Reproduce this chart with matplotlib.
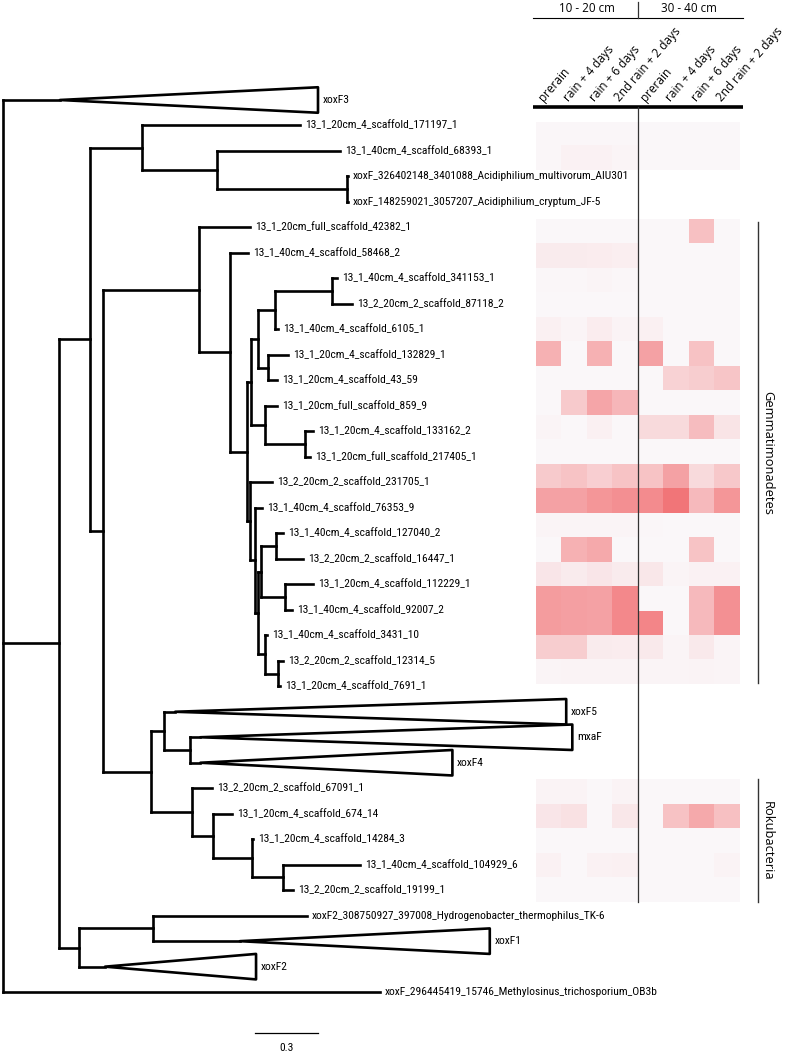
import numpy as np
import matplotlib
matplotlib.use('Agg')
import matplotlib.pyplot as plt
from matplotlib.collections import LineCollection
from matplotlib.patches import Polygon
from matplotlib.colors import LinearSegmentedColormap
from matplotlib import font_manager
from matplotlib.font_manager import FontProperties
from matplotlib.textpath import TextPath

# ---------------------------------------------------------------- data
# tree: internal node -> list of (child, branch length in substitutions/site)
# collapsed clades (triangles) are tips named xoxF1..5 / mxaF
tree_children = {
    "root": [("xoxF3", 0.271), ("n59", 0.267),
             ("xoxF_296445419_15746_Methylosinus_trichosporium_OB3b", 1.795)],
    "n59": [("n90", 0.148), ("n79", 0.095)],
    "n90": [("n142", 0.248), ("n103", 0.062)],
    "n142": [("13_1_20cm_4_scaffold_171197_1", 0.752), ("n217", 0.357)],
    "n217": [("13_1_40cm_4_scaffold_68393_1", 0.586), ("n347", 0.619)],
    "n347": [("xoxF_326402148_3401088_Acidiphilium_multivorum_AIU301", 0.003),
             ("xoxF_148259021_3057207_Acidiphilium_cryptum_JF-5", 0.003)],
    "n103": [("n199", 0.457), ("n151", 0.229)],
    "n199": [("13_1_20cm_full_scaffold_42382_1", 0.243), ("n230", 0.148)],
    "n230": [("13_1_40cm_4_scaffold_58468_2", 0.086), ("n247", 0.081)],
    "n247": [("n251", 0.019), ("n250", 0.014)],
    "n251": [("n258", 0.033), ("n265", 0.067)],
    "n258": [("n275", 0.081), ("n268", 0.048)],
    "n275": [("n332", 0.271), ("13_1_40cm_4_scaffold_6105_1", 0.014)],
    "n332": [("13_1_40cm_4_scaffold_341153_1", 0.024), ("13_2_20cm_2_scaffold_87118_2", 0.095)],
    "n268": [("13_1_20cm_4_scaffold_132829_1", 0.095), ("13_1_20cm_4_scaffold_43_59", 0.043)],
    "n265": [("13_1_20cm_full_scaffold_859_9", 0.057), ("n305", 0.190)],
    "n305": [("13_1_20cm_4_scaffold_133162_2", 0.038), ("13_1_20cm_full_scaffold_217405_1", 0.024)],
    "n250": [("13_2_20cm_2_scaffold_231705_1", 0.105), ("n255", 0.024)],
    "n255": [("13_1_40cm_4_scaffold_76353_9", 0.033), ("n258b", 0.014)],
    "n258b": [("n261", 0.014), ("n265b", 0.033)],
    "n261": [("n276", 0.071), ("n285", 0.114)],
    "n276": [("13_1_40cm_4_scaffold_127040_2", 0.033), ("13_2_20cm_2_scaffold_16447_1", 0.129)],
    "n285": [("13_1_20cm_4_scaffold_112229_1", 0.133), ("13_1_40cm_4_scaffold_92007_2", 0.033)],
    "n265b": [("13_1_40cm_4_scaffold_3431_10", 0.010), ("n278", 0.062)],
    "n278": [("13_2_20cm_2_scaffold_12314_5", 0.024), ("13_1_20cm_4_scaffold_7691_1", 0.010)],
    "n151": [("n164", 0.062), ("n192", 0.195)],
    "n164": [("xoxF5", 0.052), ("n190", 0.124)],
    "n190": [("mxaF", 0.048), ("xoxF4", 0.048)],
    "n192": [("13_2_20cm_2_scaffold_67091_1", 0.095), ("n213", 0.100)],
    "n213": [("13_1_20cm_4_scaffold_674_14", 0.090), ("n252", 0.186)],
    "n252": [("13_1_20cm_4_scaffold_14284_3", 0.005), ("n283", 0.148)],
    "n283": [("13_1_40cm_4_scaffold_104929_6", 0.367), ("13_2_20cm_2_scaffold_19199_1", 0.048)],
    "n79": [("n153", 0.352), ("xoxF2", 0.124)],
    "n153": [("xoxF2_308750927_397008_Hydrogenobacter_thermophilus_TK-6", 0.733), ("xoxF1", 0.414)],
}

# collapsed clades: length of the triangle (substitutions / site)
collapsed_names = ["xoxF3", "xoxF5", "mxaF", "xoxF4", "xoxF1", "xoxF2"]
collapsed_depth = [1.229, 1.862, 1.771, 1.200, 1.190, 0.719]

scale_bar_value = 0.3

# heat map
sample_columns = ["prerain", "rain + 4 days", "rain + 6 days", "2nd rain + 2 days",
                  "prerain", "rain + 4 days", "rain + 6 days", "2nd rain + 2 days"]
depth_groups = ["10 - 20 cm", "30 - 40 cm"]

NA = np.nan
heat_upper = [
    [0.03, 0.03, 0.03, 0.03, 0.02, 0.02, 0.02, 0.02],
    [0.03, 0.06, 0.06, 0.04, 0.02, 0.02, 0.02, 0.02],
    [NA, NA, NA, NA, NA, NA, NA, NA],
    [NA, NA, NA, NA, NA, NA, NA, NA],
    [0.02, 0.02, 0.02, 0.02, 0.02, 0.02, 0.36, 0.02],
    [0.10, 0.10, 0.09, 0.08, 0.02, 0.02, 0.02, 0.02],
    [0.03, 0.03, 0.04, 0.03, 0.02, 0.02, 0.02, 0.02],
    [0.02, 0.02, 0.02, 0.02, 0.02, 0.02, 0.02, 0.02],
    [0.07, 0.04, 0.09, 0.05, 0.07, 0.02, 0.02, 0.02],
    [0.45, 0.02, 0.45, 0.02, 0.55, 0.02, 0.35, 0.02],
    [0.02, 0.02, 0.02, 0.02, 0.02, 0.25, 0.28, 0.33],
    [0.02, 0.30, 0.52, 0.42, 0.02, 0.02, 0.02, 0.02],
    [0.04, 0.02, 0.07, 0.02, 0.20, 0.20, 0.38, 0.14],
    [0.02, 0.02, 0.02, 0.02, 0.02, 0.02, 0.02, 0.02],
    [0.30, 0.34, 0.27, 0.34, 0.34, 0.55, 0.20, 0.31],
    [0.55, 0.55, 0.62, 0.66, 0.68, 0.82, 0.40, 0.62],
    [0.04, 0.04, 0.04, 0.04, 0.03, 0.02, 0.02, 0.02],
    [0.02, 0.45, 0.50, 0.02, 0.02, 0.02, 0.34, 0.02],
    [0.13, 0.10, 0.13, 0.10, 0.12, 0.04, 0.06, 0.06],
    [0.58, 0.56, 0.55, 0.70, 0.02, 0.02, 0.40, 0.65],
    [0.58, 0.56, 0.55, 0.70, 0.72, 0.02, 0.40, 0.65],
    [0.28, 0.28, 0.10, 0.09, 0.11, 0.04, 0.11, 0.04],
    [0.04, 0.05, 0.05, 0.05, 0.04, 0.04, 0.05, 0.04],
]
heat_rokubacteria = [
    [0.05, 0.05, 0.02, 0.05, 0.02, 0.02, 0.02, 0.02],
    [0.13, 0.16, 0.02, 0.12, 0.02, 0.35, 0.50, 0.36],
    [0.02, 0.02, 0.02, 0.02, 0.02, 0.02, 0.02, 0.02],
    [0.06, 0.02, 0.06, 0.07, 0.02, 0.02, 0.02, 0.05],
    [0.02, 0.02, 0.02, 0.02, 0.02, 0.02, 0.02, 0.02],
]
clade_labels = ["Gemmatimonadetes", "Rokubacteria"]

# ---------------------------------------------------------------- layout constants
W, H = 795, 1054
ROW0_PX, ROW_PX = 100.0, 25.49      # first tip row and tip spacing (pixels)
ROOT_PX, UNIT_PX = 3.0, 210.0       # root position and pixels per substitution/site
HM_LEFT, HM_W = 535.7, 204.0
HM_UP_TOP, HM_UP_BOT = 121.7, 684.5
HM_RK_TOP, HM_RK_BOT = 779.0, 902.0
TREE_LW = 1.9

# ---------------------------------------------------------------- fonts: a narrow sans for tip labels
SAMPLE = "13_1_20cm_4_scaffold_171197_1"
TARGET_W_PX, TARGET_H_PX = 150.0, 9.0
ALLOWED = {"Liberation Sans Narrow", "Arial Narrow", "Roboto Condensed", "Noto Sans Condensed",
           "Noto Sans SemiCondensed", "Noto Sans ExtraCondensed", "Open Sans Condensed",
           "Open Sans SemiCondensed", "DejaVu Sans Condensed", "DejaVu Sans", "Noto Sans",
           "Roboto", "Open Sans", "Liberation Sans", "Lato", "Inter"}
best = None
seen = set()
for f in font_manager.fontManager.ttflist:
    if f.name not in ALLOWED or f.style != "normal":
        continue
    if str(f.weight) not in ("400", "normal", "regular", "book"):
        continue
    if f.fname in seen:
        continue
    seen.add(f.fname)
    try:
        p = FontProperties(fname=f.fname)
        w = TextPath((0, 0), SAMPLE, size=10, prop=p).get_extents().width
        h = TextPath((0, 0), "H", size=10, prop=p).get_extents().height
    except Exception:
        continue
    if w <= 0 or h <= 0:
        continue
    score = abs(w / h - TARGET_W_PX / TARGET_H_PX)
    if best is None or score < best[0]:
        best = (score, f.fname, w)

if best is None:
    tree_prop = FontProperties(family="Liberation Sans")
    wref = TextPath((0, 0), SAMPLE, size=10, prop=tree_prop).get_extents().width
else:
    tree_prop = FontProperties(fname=best[1])
    wref = best[2]
TREE_SIZE = 10 * TARGET_W_PX / (wref * 100 / 72)
HEAD_FONT = "Open Sans"


def tree_font(size):
    p = tree_prop.copy()
    p.set_size(size)
    return p


# ---------------------------------------------------------------- tree layout
nodes = {}
counter = [0]


def layout(name, parent_x, length):
    n = {"name": name, "px": parent_x, "x": parent_x + length, "len": length,
         "children": [c for c, _ in tree_children.get(name, [])]}
    nodes[name] = n
    if n["children"]:
        for c, bl in tree_children[name]:
            layout(c, n["x"], bl)
        n["y"] = (nodes[n["children"][0]]["y"] + nodes[n["children"][-1]]["y"]) / 2.0
    else:
        n["y"] = counter[0]
        counter[0] += 1


layout("root", 0.0, 0.0)

fig = plt.figure(figsize=(W / 100, H / 100), dpi=100)
ax = fig.add_axes([0, 0, 1, 1])
ax.set_xlim(-ROOT_PX / UNIT_PX, (W - ROOT_PX) / UNIT_PX)
ax.set_ylim((H - ROW0_PX) / ROW_PX, -ROW0_PX / ROW_PX)
ax.axis("off")

segs = []
tips = []
for n in nodes.values():
    if n["len"] > 0:
        segs.append([(n["px"], n["y"]), (n["x"], n["y"])])
    if n["children"]:
        c0, c1 = nodes[n["children"][0]], nodes[n["children"][-1]]
        segs.append([(n["x"], c0["y"]), (n["x"], c1["y"])])
    else:
        tips.append(n)

ax.add_collection(LineCollection(segs, colors="black", linewidths=TREE_LW,
                                 capstyle="projecting", zorder=2))

for t in tips:
    if t["name"] in collapsed_names:
        L = collapsed_depth[collapsed_names.index(t["name"])]
        tri = Polygon([(t["x"], t["y"]), (t["x"] + L, t["y"] - 0.5), (t["x"] + L, t["y"] + 0.5)],
                      closed=True, facecolor="white", edgecolor="black", lw=TREE_LW,
                      joinstyle="round", zorder=3)
        ax.add_patch(tri)
        lx = t["x"] + L
        off = 3.2
    else:
        lx = t["x"]
        off = 3.6
    ax.annotate(t["name"], (lx, t["y"]), xytext=(off, 0), textcoords="offset points",
                ha="left", va="center", fontproperties=tree_font(TREE_SIZE), zorder=4)

# scale bar
sb_x0 = (255 - ROOT_PX) / UNIT_PX
sb_y = (1033 - ROW0_PX) / ROW_PX
ax.plot([sb_x0, sb_x0 + scale_bar_value], [sb_y, sb_y], color="black", lw=0.9)
ax.text(sb_x0 + scale_bar_value / 2, sb_y + 0.58, f"{scale_bar_value}", ha="center", va="center",
        fontproperties=tree_font(TREE_SIZE))

# ---------------------------------------------------------------- heat maps
cmap = LinearSegmentedColormap.from_list("pinks", ["#fbfbfd", "#f0585b"])
cmap.set_bad((1, 1, 1, 0))


def heat_axes(top, bottom, values):
    hax = fig.add_axes([HM_LEFT / W, 1 - bottom / H, HM_W / W, (bottom - top) / H])
    hax.imshow(np.ma.masked_invalid(np.array(values)), cmap=cmap, vmin=0, vmax=1,
               aspect="auto", interpolation="nearest")
    hax.axis("off")
    hax.set_zorder(-1)
    return hax


heat_axes(HM_UP_TOP, HM_UP_BOT, heat_upper)
heat_axes(HM_RK_TOP, HM_RK_BOT, heat_rokubacteria)
ax.patch.set_alpha(0)

# ---------------------------------------------------------------- header / annotations (pixel overlay)
ov = fig.add_axes([0, 0, 1, 1], facecolor="none")
ov.set_xlim(0, W)
ov.set_ylim(H, 0)
ov.axis("off")

ncol = len(sample_columns)
cw = HM_W / ncol
mid_x = HM_LEFT + cw * ncol / 2
ov.plot([HM_LEFT - 3, HM_LEFT + HM_W + 3], [107, 107], color="black", lw=2.6, solid_capstyle="butt")
ov.plot([HM_LEFT - 3, HM_LEFT + HM_W + 3], [18, 18], color="black", lw=0.8)
ov.plot([mid_x, mid_x], [2, 18], color="#333333", lw=0.9)
ov.plot([mid_x, mid_x], [107, HM_RK_BOT], color="#333333", lw=0.9)
for i, g in enumerate(depth_groups):
    ov.text(HM_LEFT + cw * (4 * i + 2), 15.5, g, ha="center", va="bottom", fontsize=8.4,
            family=HEAD_FONT)
for i, c in enumerate(sample_columns):
    ov.text(HM_LEFT + cw * (i + 0.5) - 5, 102.5, c, rotation=49, rotation_mode="anchor",
            ha="left", va="baseline", fontsize=8.5, family=HEAD_FONT)

# clade bars
bar_x = 757.7
for lab, (y0, y1) in zip(clade_labels, [(222, 683), (779, 902)]):
    ov.plot([bar_x, bar_x], [y0, y1], color="#333333", lw=1.0)
    ov.text(bar_x + 10, (y0 + y1) / 2, lab, rotation=-90, ha="center", va="center",
            fontsize=9.3, family=HEAD_FONT, rotation_mode="anchor")

fig.savefig("out.png", dpi=100)
